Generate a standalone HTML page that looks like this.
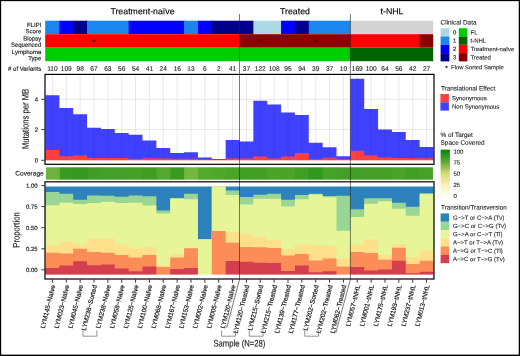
<!DOCTYPE html>
<html><head><meta charset="utf-8"><title>Figure</title>
<style>html,body{margin:0;padding:0;background:#fff;}body{width:520px;height:356px;overflow:hidden;font-family:"Liberation Sans",sans-serif;}svg{display:block;will-change:transform;}</style>
</head><body>
<svg width="520" height="356" viewBox="0 0 520 356" font-family="Liberation Sans, sans-serif">
<rect x="0.00" y="0.00" width="520.00" height="356.00" fill="#ffffff" />
<text transform="translate(142.50,14.20) rotate(0.1)" font-size="8.8" text-anchor="middle" fill="#000" stroke="#000" stroke-width="0.12" >Treatment-naïve</text>
<text transform="translate(295.00,14.20) rotate(0.1)" font-size="8.8" text-anchor="middle" fill="#000" stroke="#000" stroke-width="0.12" >Treated</text>
<text transform="translate(392.00,14.20) rotate(0.1)" font-size="8.8" text-anchor="middle" fill="#000" stroke="#000" stroke-width="0.12" >t-NHL</text>
<rect x="45.20" y="20.70" width="14.86" height="13.50" fill="#1c86ee" />
<rect x="59.36" y="20.70" width="14.56" height="13.50" fill="#0000ff" />
<rect x="73.21" y="20.70" width="14.56" height="13.50" fill="#00008b" />
<rect x="87.07" y="20.70" width="42.27" height="13.50" fill="#1c86ee" />
<rect x="128.64" y="20.70" width="56.13" height="13.50" fill="#0000ff" />
<rect x="184.07" y="20.70" width="14.56" height="13.50" fill="#1c86ee" />
<rect x="197.93" y="20.70" width="14.56" height="13.50" fill="#0000ff" />
<rect x="211.78" y="20.70" width="42.27" height="13.50" fill="#00008b" />
<rect x="253.35" y="20.70" width="28.41" height="13.50" fill="#add8e6" />
<rect x="281.07" y="20.70" width="14.56" height="13.50" fill="#0000ff" />
<rect x="294.93" y="20.70" width="14.56" height="13.50" fill="#00008b" />
<rect x="308.78" y="20.70" width="42.27" height="13.50" fill="#1c86ee" />
<rect x="350.35" y="20.70" width="82.85" height="13.50" fill="#d3d3d3" />
<rect x="45.20" y="34.20" width="195.00" height="13.50" fill="#ff0000" />
<rect x="239.50" y="34.20" width="111.56" height="13.50" fill="#8b0000" />
<rect x="350.35" y="34.20" width="69.99" height="13.50" fill="#ff0000" />
<rect x="419.64" y="34.20" width="13.56" height="13.50" fill="#8b0000" />
<rect x="45.20" y="47.70" width="305.85" height="13.50" fill="#00cd00" />
<rect x="350.35" y="47.70" width="82.85" height="13.50" fill="#006400" />
<polygon points="94.00,38.80 94.53,40.07 95.90,40.18 94.86,41.08 95.18,42.42 94.00,41.70 92.82,42.42 93.14,41.08 92.10,40.18 93.47,40.07" fill="#300000"/>
<polygon points="260.28,38.80 260.81,40.07 262.19,40.18 261.14,41.08 261.46,42.42 260.28,41.70 259.11,42.42 259.43,41.08 258.38,40.18 259.75,40.07" fill="#300000"/>
<polygon points="315.71,38.80 316.24,40.07 317.61,40.18 316.57,41.08 316.89,42.42 315.71,41.70 314.54,42.42 314.86,41.08 313.81,40.18 315.18,40.07" fill="#300000"/>
<text transform="translate(41.30,27.00) rotate(0.1)" font-size="6" text-anchor="end" fill="#1a1a1a" stroke="#1a1a1a" stroke-width="0.15" >FLIPI</text>
<text transform="translate(41.30,33.20) rotate(0.1)" font-size="6" text-anchor="end" fill="#1a1a1a" stroke="#1a1a1a" stroke-width="0.15" >Score</text>
<text transform="translate(41.30,40.50) rotate(0.1)" font-size="6" text-anchor="end" fill="#1a1a1a" stroke="#1a1a1a" stroke-width="0.15" >Biopsy</text>
<text transform="translate(41.30,46.70) rotate(0.1)" font-size="6" text-anchor="end" fill="#1a1a1a" stroke="#1a1a1a" stroke-width="0.15" >Sequenced</text>
<text transform="translate(41.30,54.00) rotate(0.1)" font-size="6" text-anchor="end" fill="#1a1a1a" stroke="#1a1a1a" stroke-width="0.15" >Lymphoma</text>
<text transform="translate(41.30,60.20) rotate(0.1)" font-size="6" text-anchor="end" fill="#1a1a1a" stroke="#1a1a1a" stroke-width="0.15" >Type</text>
<text transform="translate(41.30,70.70) rotate(0.1)" font-size="6" text-anchor="end" fill="#1a1a1a" stroke="#1a1a1a" stroke-width="0.15" ># of Variants</text>
<text transform="translate(52.43,70.80) rotate(0.1)" font-size="6.6" text-anchor="middle" fill="#1a1a1a" stroke="#1a1a1a" stroke-width="0.12" >110</text>
<text transform="translate(66.29,70.80) rotate(0.1)" font-size="6.6" text-anchor="middle" fill="#1a1a1a" stroke="#1a1a1a" stroke-width="0.12" >109</text>
<text transform="translate(80.14,70.80) rotate(0.1)" font-size="6.6" text-anchor="middle" fill="#1a1a1a" stroke="#1a1a1a" stroke-width="0.12" >98</text>
<text transform="translate(94.00,70.80) rotate(0.1)" font-size="6.6" text-anchor="middle" fill="#1a1a1a" stroke="#1a1a1a" stroke-width="0.12" >67</text>
<text transform="translate(107.86,70.80) rotate(0.1)" font-size="6.6" text-anchor="middle" fill="#1a1a1a" stroke="#1a1a1a" stroke-width="0.12" >63</text>
<text transform="translate(121.71,70.80) rotate(0.1)" font-size="6.6" text-anchor="middle" fill="#1a1a1a" stroke="#1a1a1a" stroke-width="0.12" >56</text>
<text transform="translate(135.57,70.80) rotate(0.1)" font-size="6.6" text-anchor="middle" fill="#1a1a1a" stroke="#1a1a1a" stroke-width="0.12" >54</text>
<text transform="translate(149.43,70.80) rotate(0.1)" font-size="6.6" text-anchor="middle" fill="#1a1a1a" stroke="#1a1a1a" stroke-width="0.12" >41</text>
<text transform="translate(163.28,70.80) rotate(0.1)" font-size="6.6" text-anchor="middle" fill="#1a1a1a" stroke="#1a1a1a" stroke-width="0.12" >24</text>
<text transform="translate(177.14,70.80) rotate(0.1)" font-size="6.6" text-anchor="middle" fill="#1a1a1a" stroke="#1a1a1a" stroke-width="0.12" >16</text>
<text transform="translate(191.00,70.80) rotate(0.1)" font-size="6.6" text-anchor="middle" fill="#1a1a1a" stroke="#1a1a1a" stroke-width="0.12" >13</text>
<text transform="translate(204.86,70.80) rotate(0.1)" font-size="6.6" text-anchor="middle" fill="#1a1a1a" stroke="#1a1a1a" stroke-width="0.12" >6</text>
<text transform="translate(218.71,70.80) rotate(0.1)" font-size="6.6" text-anchor="middle" fill="#1a1a1a" stroke="#1a1a1a" stroke-width="0.12" >2</text>
<text transform="translate(232.57,70.80) rotate(0.1)" font-size="6.6" text-anchor="middle" fill="#1a1a1a" stroke="#1a1a1a" stroke-width="0.12" >41</text>
<text transform="translate(246.43,70.80) rotate(0.1)" font-size="6.6" text-anchor="middle" fill="#1a1a1a" stroke="#1a1a1a" stroke-width="0.12" >37</text>
<text transform="translate(260.28,70.80) rotate(0.1)" font-size="6.6" text-anchor="middle" fill="#1a1a1a" stroke="#1a1a1a" stroke-width="0.12" >122</text>
<text transform="translate(274.14,70.80) rotate(0.1)" font-size="6.6" text-anchor="middle" fill="#1a1a1a" stroke="#1a1a1a" stroke-width="0.12" >108</text>
<text transform="translate(288.00,70.80) rotate(0.1)" font-size="6.6" text-anchor="middle" fill="#1a1a1a" stroke="#1a1a1a" stroke-width="0.12" >95</text>
<text transform="translate(301.85,70.80) rotate(0.1)" font-size="6.6" text-anchor="middle" fill="#1a1a1a" stroke="#1a1a1a" stroke-width="0.12" >94</text>
<text transform="translate(315.71,70.80) rotate(0.1)" font-size="6.6" text-anchor="middle" fill="#1a1a1a" stroke="#1a1a1a" stroke-width="0.12" >39</text>
<text transform="translate(329.57,70.80) rotate(0.1)" font-size="6.6" text-anchor="middle" fill="#1a1a1a" stroke="#1a1a1a" stroke-width="0.12" >37</text>
<text transform="translate(343.43,70.80) rotate(0.1)" font-size="6.6" text-anchor="middle" fill="#1a1a1a" stroke="#1a1a1a" stroke-width="0.12" >10</text>
<text transform="translate(357.28,70.80) rotate(0.1)" font-size="6.6" text-anchor="middle" fill="#1a1a1a" stroke="#1a1a1a" stroke-width="0.12" >169</text>
<text transform="translate(371.14,70.80) rotate(0.1)" font-size="6.6" text-anchor="middle" fill="#1a1a1a" stroke="#1a1a1a" stroke-width="0.12" >100</text>
<text transform="translate(385.00,70.80) rotate(0.1)" font-size="6.6" text-anchor="middle" fill="#1a1a1a" stroke="#1a1a1a" stroke-width="0.12" >64</text>
<text transform="translate(398.85,70.80) rotate(0.1)" font-size="6.6" text-anchor="middle" fill="#1a1a1a" stroke="#1a1a1a" stroke-width="0.12" >56</text>
<text transform="translate(412.71,70.80) rotate(0.1)" font-size="6.6" text-anchor="middle" fill="#1a1a1a" stroke="#1a1a1a" stroke-width="0.12" >42</text>
<text transform="translate(426.57,70.80) rotate(0.1)" font-size="6.6" text-anchor="middle" fill="#1a1a1a" stroke="#1a1a1a" stroke-width="0.12" >27</text>
<rect x="45.00" y="74.40" width="389.00" height="89.90" fill="#ffffff" />
<line x1="52.43" x2="52.43" y1="74.4" y2="164.3" stroke="#dedede" stroke-width="0.7"/>
<line x1="66.29" x2="66.29" y1="74.4" y2="164.3" stroke="#dedede" stroke-width="0.7"/>
<line x1="80.14" x2="80.14" y1="74.4" y2="164.3" stroke="#dedede" stroke-width="0.7"/>
<line x1="94.00" x2="94.00" y1="74.4" y2="164.3" stroke="#dedede" stroke-width="0.7"/>
<line x1="107.86" x2="107.86" y1="74.4" y2="164.3" stroke="#dedede" stroke-width="0.7"/>
<line x1="121.71" x2="121.71" y1="74.4" y2="164.3" stroke="#dedede" stroke-width="0.7"/>
<line x1="135.57" x2="135.57" y1="74.4" y2="164.3" stroke="#dedede" stroke-width="0.7"/>
<line x1="149.43" x2="149.43" y1="74.4" y2="164.3" stroke="#dedede" stroke-width="0.7"/>
<line x1="163.28" x2="163.28" y1="74.4" y2="164.3" stroke="#dedede" stroke-width="0.7"/>
<line x1="177.14" x2="177.14" y1="74.4" y2="164.3" stroke="#dedede" stroke-width="0.7"/>
<line x1="191.00" x2="191.00" y1="74.4" y2="164.3" stroke="#dedede" stroke-width="0.7"/>
<line x1="204.86" x2="204.86" y1="74.4" y2="164.3" stroke="#dedede" stroke-width="0.7"/>
<line x1="218.71" x2="218.71" y1="74.4" y2="164.3" stroke="#dedede" stroke-width="0.7"/>
<line x1="232.57" x2="232.57" y1="74.4" y2="164.3" stroke="#dedede" stroke-width="0.7"/>
<line x1="246.43" x2="246.43" y1="74.4" y2="164.3" stroke="#dedede" stroke-width="0.7"/>
<line x1="260.28" x2="260.28" y1="74.4" y2="164.3" stroke="#dedede" stroke-width="0.7"/>
<line x1="274.14" x2="274.14" y1="74.4" y2="164.3" stroke="#dedede" stroke-width="0.7"/>
<line x1="288.00" x2="288.00" y1="74.4" y2="164.3" stroke="#dedede" stroke-width="0.7"/>
<line x1="301.85" x2="301.85" y1="74.4" y2="164.3" stroke="#dedede" stroke-width="0.7"/>
<line x1="315.71" x2="315.71" y1="74.4" y2="164.3" stroke="#dedede" stroke-width="0.7"/>
<line x1="329.57" x2="329.57" y1="74.4" y2="164.3" stroke="#dedede" stroke-width="0.7"/>
<line x1="343.43" x2="343.43" y1="74.4" y2="164.3" stroke="#dedede" stroke-width="0.7"/>
<line x1="357.28" x2="357.28" y1="74.4" y2="164.3" stroke="#dedede" stroke-width="0.7"/>
<line x1="371.14" x2="371.14" y1="74.4" y2="164.3" stroke="#dedede" stroke-width="0.7"/>
<line x1="385.00" x2="385.00" y1="74.4" y2="164.3" stroke="#dedede" stroke-width="0.7"/>
<line x1="398.85" x2="398.85" y1="74.4" y2="164.3" stroke="#dedede" stroke-width="0.7"/>
<line x1="412.71" x2="412.71" y1="74.4" y2="164.3" stroke="#dedede" stroke-width="0.7"/>
<line x1="426.57" x2="426.57" y1="74.4" y2="164.3" stroke="#dedede" stroke-width="0.7"/>
<line x1="45.0" x2="434.0" y1="99.3" y2="99.3" stroke="#dedede" stroke-width="0.7"/>
<line x1="45.0" x2="434.0" y1="129.6" y2="129.6" stroke="#dedede" stroke-width="0.7"/>
<polygon points="45.50,161.3 45.50,95.20 59.36,95.20 59.36,108.10 73.21,108.10 73.21,114.30 87.07,114.30 87.07,127.70 100.93,127.70 100.93,129.00 114.78,129.00 114.78,133.00 128.64,133.00 128.64,134.80 142.50,134.80 142.50,140.50 156.36,140.50 156.36,147.90 170.21,147.90 170.21,153.00 184.07,153.00 184.07,152.30 197.93,152.30 197.93,157.50 211.78,157.50 211.78,159.00 225.64,159.00 225.64,140.10 239.50,140.10 239.50,141.60 253.35,141.60 253.35,100.70 267.21,100.70 267.21,104.40 281.07,104.40 281.07,112.60 294.93,112.60 294.93,115.00 308.78,115.00 308.78,142.80 322.64,142.80 322.64,147.20 336.50,147.20 336.50,156.20 350.35,156.20 350.35,78.70 364.21,78.70 364.21,108.90 378.07,108.90 378.07,129.60 391.92,129.60 391.92,132.10 405.78,132.10 405.78,139.90 419.64,139.90 419.64,147.10 433.50,147.10 433.5,161.3" fill="#4040ff"/>
<polygon points="45.50,161.3 45.50,150.00 59.36,150.00 59.36,156.20 73.21,156.20 73.21,155.50 87.07,155.50 87.07,158.10 100.93,158.10 100.93,158.10 114.78,158.10 114.78,158.00 128.64,158.00 128.64,159.00 142.50,159.00 142.50,158.30 156.36,158.30 156.36,158.60 170.21,158.60 170.21,158.80 184.07,158.80 184.07,158.80 197.93,158.80 197.93,159.40 211.78,159.40 211.78,159.80 225.64,159.80 225.64,158.40 239.50,158.40 239.50,158.60 253.35,158.60 253.35,156.60 267.21,156.60 267.21,158.60 281.07,158.60 281.07,156.60 294.93,156.60 294.93,153.10 308.78,153.10 308.78,159.30 322.64,159.30 322.64,157.70 336.50,157.70 336.50,159.30 350.35,159.30 350.35,150.70 364.21,150.70 364.21,155.40 378.07,155.40 378.07,157.50 391.92,157.50 391.92,158.00 405.78,158.00 405.78,158.20 419.64,158.20 419.64,158.20 433.50,158.20 433.5,161.3" fill="#ff4040"/>
<line x1="52.43" x2="52.43" y1="95.20" y2="160.3" stroke="#000040" stroke-opacity="0.10" stroke-width="0.7"/>
<line x1="66.29" x2="66.29" y1="108.10" y2="160.3" stroke="#000040" stroke-opacity="0.10" stroke-width="0.7"/>
<line x1="80.14" x2="80.14" y1="114.30" y2="160.3" stroke="#000040" stroke-opacity="0.10" stroke-width="0.7"/>
<line x1="94.00" x2="94.00" y1="127.70" y2="160.3" stroke="#000040" stroke-opacity="0.10" stroke-width="0.7"/>
<line x1="107.86" x2="107.86" y1="129.00" y2="160.3" stroke="#000040" stroke-opacity="0.10" stroke-width="0.7"/>
<line x1="121.71" x2="121.71" y1="133.00" y2="160.3" stroke="#000040" stroke-opacity="0.10" stroke-width="0.7"/>
<line x1="135.57" x2="135.57" y1="134.80" y2="160.3" stroke="#000040" stroke-opacity="0.10" stroke-width="0.7"/>
<line x1="149.43" x2="149.43" y1="140.50" y2="160.3" stroke="#000040" stroke-opacity="0.10" stroke-width="0.7"/>
<line x1="163.28" x2="163.28" y1="147.90" y2="160.3" stroke="#000040" stroke-opacity="0.10" stroke-width="0.7"/>
<line x1="177.14" x2="177.14" y1="153.00" y2="160.3" stroke="#000040" stroke-opacity="0.10" stroke-width="0.7"/>
<line x1="191.00" x2="191.00" y1="152.30" y2="160.3" stroke="#000040" stroke-opacity="0.10" stroke-width="0.7"/>
<line x1="204.86" x2="204.86" y1="157.50" y2="160.3" stroke="#000040" stroke-opacity="0.10" stroke-width="0.7"/>
<line x1="218.71" x2="218.71" y1="159.00" y2="160.3" stroke="#000040" stroke-opacity="0.10" stroke-width="0.7"/>
<line x1="232.57" x2="232.57" y1="140.10" y2="160.3" stroke="#000040" stroke-opacity="0.10" stroke-width="0.7"/>
<line x1="246.43" x2="246.43" y1="141.60" y2="160.3" stroke="#000040" stroke-opacity="0.10" stroke-width="0.7"/>
<line x1="260.28" x2="260.28" y1="100.70" y2="160.3" stroke="#000040" stroke-opacity="0.10" stroke-width="0.7"/>
<line x1="274.14" x2="274.14" y1="104.40" y2="160.3" stroke="#000040" stroke-opacity="0.10" stroke-width="0.7"/>
<line x1="288.00" x2="288.00" y1="112.60" y2="160.3" stroke="#000040" stroke-opacity="0.10" stroke-width="0.7"/>
<line x1="301.85" x2="301.85" y1="115.00" y2="160.3" stroke="#000040" stroke-opacity="0.10" stroke-width="0.7"/>
<line x1="315.71" x2="315.71" y1="142.80" y2="160.3" stroke="#000040" stroke-opacity="0.10" stroke-width="0.7"/>
<line x1="329.57" x2="329.57" y1="147.20" y2="160.3" stroke="#000040" stroke-opacity="0.10" stroke-width="0.7"/>
<line x1="343.43" x2="343.43" y1="156.20" y2="160.3" stroke="#000040" stroke-opacity="0.10" stroke-width="0.7"/>
<line x1="357.28" x2="357.28" y1="78.70" y2="160.3" stroke="#000040" stroke-opacity="0.10" stroke-width="0.7"/>
<line x1="371.14" x2="371.14" y1="108.90" y2="160.3" stroke="#000040" stroke-opacity="0.10" stroke-width="0.7"/>
<line x1="385.00" x2="385.00" y1="129.60" y2="160.3" stroke="#000040" stroke-opacity="0.10" stroke-width="0.7"/>
<line x1="398.85" x2="398.85" y1="132.10" y2="160.3" stroke="#000040" stroke-opacity="0.10" stroke-width="0.7"/>
<line x1="412.71" x2="412.71" y1="139.90" y2="160.3" stroke="#000040" stroke-opacity="0.10" stroke-width="0.7"/>
<line x1="426.57" x2="426.57" y1="147.10" y2="160.3" stroke="#000040" stroke-opacity="0.10" stroke-width="0.7"/>
<rect x="45.30" y="160.30" width="388.40" height="3.60" fill="#ffffff" />
<rect x="46.00" y="167.30" width="14.52" height="12.40" fill="#6cb23c" />
<rect x="59.82" y="167.30" width="14.52" height="12.40" fill="#3a9a22" />
<rect x="73.64" y="167.30" width="14.52" height="12.40" fill="#369a20" />
<rect x="87.46" y="167.30" width="14.52" height="12.40" fill="#3f9d25" />
<rect x="101.28" y="167.30" width="14.52" height="12.40" fill="#449f27" />
<rect x="115.10" y="167.30" width="14.52" height="12.40" fill="#469f28" />
<rect x="128.92" y="167.30" width="14.52" height="12.40" fill="#47a028" />
<rect x="142.74" y="167.30" width="14.52" height="12.40" fill="#3f9d24" />
<rect x="156.56" y="167.30" width="14.52" height="12.40" fill="#55a82e" />
<rect x="170.38" y="167.30" width="14.52" height="12.40" fill="#3a9a20" />
<rect x="184.20" y="167.30" width="14.52" height="12.40" fill="#74b840" />
<rect x="198.02" y="167.30" width="14.52" height="12.40" fill="#52a92c" />
<rect x="211.84" y="167.30" width="14.52" height="12.40" fill="#4fa82a" />
<rect x="225.66" y="167.30" width="14.52" height="12.40" fill="#4aa428" />
<rect x="239.48" y="167.30" width="14.52" height="12.40" fill="#3f9e24" />
<rect x="253.30" y="167.30" width="14.52" height="12.40" fill="#429f25" />
<rect x="267.12" y="167.30" width="14.52" height="12.40" fill="#4ba428" />
<rect x="280.94" y="167.30" width="14.52" height="12.40" fill="#4ba428" />
<rect x="294.76" y="167.30" width="14.52" height="12.40" fill="#3f9e24" />
<rect x="308.58" y="167.30" width="14.52" height="12.40" fill="#2f981d" />
<rect x="322.40" y="167.30" width="14.52" height="12.40" fill="#47a327" />
<rect x="336.22" y="167.30" width="14.52" height="12.40" fill="#459f27" />
<rect x="350.04" y="167.30" width="14.52" height="12.40" fill="#429f25" />
<rect x="363.86" y="167.30" width="14.52" height="12.40" fill="#489f28" />
<rect x="377.68" y="167.30" width="14.52" height="12.40" fill="#459f27" />
<rect x="391.50" y="167.30" width="14.52" height="12.40" fill="#4aa428" />
<rect x="405.32" y="167.30" width="14.52" height="12.40" fill="#429f25" />
<rect x="419.14" y="167.30" width="13.82" height="12.40" fill="#47a027" />
<rect x="45.00" y="181.80" width="389.00" height="97.20" fill="#ffffff" />
<polygon points="45.50,275.6 45.50,186.60 59.36,186.60 59.36,186.60 73.21,186.60 73.21,186.60 87.07,186.60 87.07,186.60 100.93,186.60 100.93,186.60 114.78,186.60 114.78,186.60 128.64,186.60 128.64,186.60 142.50,186.60 142.50,186.60 156.36,186.60 156.36,186.60 170.21,186.60 170.21,186.60 184.07,186.60 184.07,186.60 197.93,186.60 197.93,186.60 211.78,186.60 211.78,186.60 225.64,186.60 225.64,186.60 239.50,186.60 239.50,186.60 253.35,186.60 253.35,186.60 267.21,186.60 267.21,186.60 281.07,186.60 281.07,186.60 294.93,186.60 294.93,186.60 308.78,186.60 308.78,186.60 322.64,186.60 322.64,186.60 336.50,186.60 336.50,186.60 350.35,186.60 350.35,186.60 364.21,186.60 364.21,186.60 378.07,186.60 378.07,186.60 391.92,186.60 391.92,186.60 405.78,186.60 405.78,186.60 419.64,186.60 419.64,186.60 433.50,186.60 433.5,275.6" fill="#2e82bb"/>
<polygon points="45.50,275.6 45.50,191.90 59.36,191.90 59.36,193.80 73.21,193.80 73.21,199.80 87.07,199.80 87.07,195.40 100.93,195.40 100.93,195.80 114.78,195.80 114.78,196.70 128.64,196.70 128.64,195.40 142.50,195.40 142.50,196.30 156.36,196.30 156.36,210.40 170.21,210.40 170.21,198.30 184.07,198.30 184.07,193.80 197.93,193.80 197.93,239.30 211.78,239.30 211.78,186.30 225.64,186.30 225.64,190.60 239.50,190.60 239.50,196.90 253.35,196.90 253.35,194.80 267.21,194.80 267.21,193.80 281.07,193.80 281.07,199.80 294.93,199.80 294.93,195.00 308.78,195.00 308.78,193.80 322.64,193.80 322.64,196.00 336.50,196.00 336.50,195.80 350.35,195.80 350.35,209.20 364.21,209.20 364.21,198.30 378.07,198.30 378.07,198.30 391.92,198.30 391.92,202.80 405.78,202.80 405.78,206.80 419.64,206.80 419.64,193.50 433.50,193.50 433.5,275.6" fill="#99d594"/>
<polygon points="45.50,275.6 45.50,205.20 59.36,205.20 59.36,202.70 73.21,202.70 73.21,204.00 87.07,204.00 87.07,203.00 100.93,203.00 100.93,201.70 114.78,201.70 114.78,203.00 128.64,203.00 128.64,202.70 142.50,202.70 142.50,205.40 156.36,205.40 156.36,213.60 170.21,213.60 170.21,198.50 184.07,198.50 184.07,199.20 197.93,199.20 197.93,239.30 211.78,239.30 211.78,186.30 225.64,186.30 225.64,195.00 239.50,195.00 239.50,204.60 253.35,204.60 253.35,198.70 267.21,198.70 267.21,198.70 281.07,198.70 281.07,206.50 294.93,206.50 294.93,199.20 308.78,199.20 308.78,194.50 322.64,194.50 322.64,197.30 336.50,197.30 336.50,230.80 350.35,230.80 350.35,216.90 364.21,216.90 364.21,203.70 378.07,203.70 378.07,201.20 391.92,201.20 391.92,208.70 405.78,208.70 405.78,215.80 419.64,215.80 419.64,193.80 433.50,193.80 433.5,275.6" fill="#e6f598"/>
<polygon points="45.50,275.6 45.50,245.40 59.36,245.40 59.36,241.50 73.21,241.50 73.21,244.40 87.07,244.40 87.07,238.70 100.93,238.70 100.93,238.70 114.78,238.70 114.78,244.40 128.64,244.40 128.64,248.30 142.50,248.30 142.50,246.90 156.36,246.90 156.36,265.00 170.21,265.00 170.21,254.00 184.07,254.00 184.07,248.20 197.93,248.20 197.93,275.60 211.78,275.60 211.78,231.00 225.64,231.00 225.64,232.30 239.50,232.30 239.50,233.80 253.35,233.80 253.35,236.70 267.21,236.70 267.21,240.60 281.07,240.60 281.07,249.20 294.93,249.20 294.93,244.40 308.78,244.40 308.78,245.00 322.64,245.00 322.64,246.00 336.50,246.00 336.50,258.80 350.35,258.80 350.35,244.40 364.21,244.40 364.21,239.60 378.07,239.60 378.07,255.00 391.92,255.00 391.92,244.40 405.78,244.40 405.78,256.90 419.64,256.90 419.64,250.20 433.50,250.20 433.5,275.6" fill="#fee08b"/>
<polygon points="45.50,275.6 45.50,252.70 59.36,252.70 59.36,253.50 73.21,253.50 73.21,248.70 87.07,248.70 87.07,252.10 100.93,252.10 100.93,252.70 114.78,252.70 114.78,255.00 128.64,255.00 128.64,257.50 142.50,257.50 142.50,255.00 156.36,255.00 156.36,267.00 170.21,267.00 170.21,257.50 184.07,257.50 184.07,248.30 197.93,248.30 197.93,275.60 211.78,275.60 211.78,231.00 225.64,231.00 225.64,242.70 239.50,242.70 239.50,246.90 253.35,246.90 253.35,247.30 267.21,247.30 267.21,247.90 281.07,247.90 281.07,255.60 294.93,255.60 294.93,254.00 308.78,254.00 308.78,260.40 322.64,260.40 322.64,258.50 336.50,258.50 336.50,266.50 350.35,266.50 350.35,252.10 364.21,252.10 364.21,253.10 378.07,253.10 378.07,259.80 391.92,259.80 391.92,247.70 405.78,247.70 405.78,264.00 419.64,264.00 419.64,260.80 433.50,260.80 433.5,275.6" fill="#fc8d59"/>
<polygon points="45.50,275.6 45.50,267.90 59.36,267.90 59.36,265.60 73.21,265.60 73.21,261.20 87.07,261.20 87.07,265.20 100.93,265.20 100.93,264.60 114.78,264.60 114.78,268.50 128.64,268.50 128.64,271.30 142.50,271.30 142.50,266.50 156.36,266.50 156.36,275.60 170.21,275.60 170.21,269.00 184.07,269.00 184.07,267.90 197.93,267.90 197.93,275.60 211.78,275.60 211.78,275.60 225.64,275.60 225.64,261.00 239.50,261.00 239.50,261.70 253.35,261.70 253.35,262.70 267.21,262.70 267.21,263.10 281.07,263.10 281.07,271.00 294.93,271.00 294.93,265.60 308.78,265.60 308.78,272.30 322.64,272.30 322.64,271.30 336.50,271.30 336.50,275.60 350.35,275.60 350.35,266.90 364.21,266.90 364.21,270.40 378.07,270.40 378.07,269.40 391.92,269.40 391.92,260.80 405.78,260.80 405.78,273.30 419.64,273.30 419.64,271.70 433.50,271.70 433.5,275.6" fill="#d53e4f"/>
<rect x="45.30" y="274.60" width="388.40" height="4.10" fill="#ffffff" />
<polyline points="239.5,14 239.5,279.5 226.7,327.8" fill="none" stroke="#222" stroke-width="0.6"/>
<polyline points="350.4,14 350.4,279.5 335.7,333.2" fill="none" stroke="#222" stroke-width="0.6"/>
<rect x="45.0" y="74.4" width="389.0" height="89.9" fill="none" stroke="#000" stroke-width="1.2"/>
<rect x="45.0" y="181.8" width="389.0" height="97.19999999999999" fill="none" stroke="#000" stroke-width="1.2"/>
<line x1="41.3" x2="44.5" y1="99.3" y2="99.3" stroke="#000" stroke-width="0.8"/>
<text transform="translate(38.20,101.50) rotate(0.1)" font-size="6" text-anchor="end" fill="#1a1a1a" stroke="#1a1a1a" stroke-width="0.15" >4</text>
<line x1="41.3" x2="44.5" y1="129.6" y2="129.6" stroke="#000" stroke-width="0.8"/>
<text transform="translate(38.20,131.80) rotate(0.1)" font-size="6" text-anchor="end" fill="#1a1a1a" stroke="#1a1a1a" stroke-width="0.15" >2</text>
<line x1="41.3" x2="44.5" y1="160.3" y2="160.3" stroke="#000" stroke-width="0.8"/>
<text transform="translate(38.20,162.50) rotate(0.1)" font-size="6" text-anchor="end" fill="#1a1a1a" stroke="#1a1a1a" stroke-width="0.15" >0</text>
<line x1="41.3" x2="44.5" y1="185.6" y2="185.6" stroke="#000" stroke-width="0.8"/>
<text transform="translate(37.60,187.80) rotate(0.1)" font-size="6" text-anchor="end" fill="#1a1a1a" stroke="#1a1a1a" stroke-width="0.15" >1.00</text>
<line x1="41.3" x2="44.5" y1="206.6" y2="206.6" stroke="#000" stroke-width="0.8"/>
<text transform="translate(37.60,208.80) rotate(0.1)" font-size="6" text-anchor="end" fill="#1a1a1a" stroke="#1a1a1a" stroke-width="0.15" >0.75</text>
<line x1="41.3" x2="44.5" y1="227.7" y2="227.7" stroke="#000" stroke-width="0.8"/>
<text transform="translate(37.60,229.90) rotate(0.1)" font-size="6" text-anchor="end" fill="#1a1a1a" stroke="#1a1a1a" stroke-width="0.15" >0.50</text>
<line x1="41.3" x2="44.5" y1="248.8" y2="248.8" stroke="#000" stroke-width="0.8"/>
<text transform="translate(37.60,251.00) rotate(0.1)" font-size="6" text-anchor="end" fill="#1a1a1a" stroke="#1a1a1a" stroke-width="0.15" >0.25</text>
<line x1="41.3" x2="44.5" y1="269.8" y2="269.8" stroke="#000" stroke-width="0.8"/>
<text transform="translate(37.60,272.00) rotate(0.1)" font-size="6" text-anchor="end" fill="#1a1a1a" stroke="#1a1a1a" stroke-width="0.15" >0.00</text>
<text transform="translate(43.70,175.45) rotate(0.1)" font-size="6.55" text-anchor="end" fill="#1a1a1a" stroke="#1a1a1a" stroke-width="0.15" >Coverage</text>
<text transform="translate(28.60,118.90) rotate(-90.1) scale(0.82,1)" font-size="9.4" text-anchor="middle" fill="#1a1a1a" stroke="#1a1a1a" stroke-width="0.15" >Mutations per MB</text>
<text transform="translate(19.40,230.00) rotate(-90.1) scale(0.82,1)" font-size="9.4" text-anchor="middle" fill="#1a1a1a" stroke="#1a1a1a" stroke-width="0.15" >Proportion</text>
<line x1="52.43" x2="52.43" y1="279.5" y2="282.7" stroke="#000" stroke-width="0.8"/>
<text transform="translate(55.43,285.6) rotate(-76)" font-size="6.5" text-anchor="end" fill="#1a1a1a" stroke="#1a1a1a" stroke-width="0.2">LYM145−Naïve</text>
<line x1="66.29" x2="66.29" y1="279.5" y2="282.7" stroke="#000" stroke-width="0.8"/>
<text transform="translate(69.29,285.6) rotate(-76)" font-size="6.5" text-anchor="end" fill="#1a1a1a" stroke="#1a1a1a" stroke-width="0.2">LYM023−Naïve</text>
<line x1="80.14" x2="80.14" y1="279.5" y2="282.7" stroke="#000" stroke-width="0.8"/>
<text transform="translate(83.14,285.6) rotate(-76)" font-size="6.5" text-anchor="end" fill="#1a1a1a" stroke="#1a1a1a" stroke-width="0.2">LYM045−Naïve</text>
<line x1="94.00" x2="94.00" y1="279.5" y2="282.7" stroke="#000" stroke-width="0.8"/>
<text transform="translate(97.00,285.6) rotate(-76)" font-size="6.5" text-anchor="end" fill="#1a1a1a" stroke="#1a1a1a" stroke-width="0.2">LYM238−Sorted</text>
<line x1="107.86" x2="107.86" y1="279.5" y2="282.7" stroke="#000" stroke-width="0.8"/>
<text transform="translate(110.86,285.6) rotate(-76)" font-size="6.5" text-anchor="end" fill="#1a1a1a" stroke="#1a1a1a" stroke-width="0.2">LYM238−Naïve</text>
<line x1="121.71" x2="121.71" y1="279.5" y2="282.7" stroke="#000" stroke-width="0.8"/>
<text transform="translate(124.71,285.6) rotate(-76)" font-size="6.5" text-anchor="end" fill="#1a1a1a" stroke="#1a1a1a" stroke-width="0.2">LYM058−Naïve</text>
<line x1="135.57" x2="135.57" y1="279.5" y2="282.7" stroke="#000" stroke-width="0.8"/>
<text transform="translate(138.57,285.6) rotate(-76)" font-size="6.5" text-anchor="end" fill="#1a1a1a" stroke="#1a1a1a" stroke-width="0.2">LYM125−Naïve</text>
<line x1="149.43" x2="149.43" y1="279.5" y2="282.7" stroke="#000" stroke-width="0.8"/>
<text transform="translate(152.43,285.6) rotate(-76)" font-size="6.5" text-anchor="end" fill="#1a1a1a" stroke="#1a1a1a" stroke-width="0.2">LYM100−Naïve</text>
<line x1="163.28" x2="163.28" y1="279.5" y2="282.7" stroke="#000" stroke-width="0.8"/>
<text transform="translate(166.28,285.6) rotate(-76)" font-size="6.5" text-anchor="end" fill="#1a1a1a" stroke="#1a1a1a" stroke-width="0.2">LYM068−Naïve</text>
<line x1="177.14" x2="177.14" y1="279.5" y2="282.7" stroke="#000" stroke-width="0.8"/>
<text transform="translate(180.14,285.6) rotate(-76)" font-size="6.5" text-anchor="end" fill="#1a1a1a" stroke="#1a1a1a" stroke-width="0.2">LYM167−Naïve</text>
<line x1="191.00" x2="191.00" y1="279.5" y2="282.7" stroke="#000" stroke-width="0.8"/>
<text transform="translate(194.00,285.6) rotate(-76)" font-size="6.5" text-anchor="end" fill="#1a1a1a" stroke="#1a1a1a" stroke-width="0.2">LYM153−Naïve</text>
<line x1="204.86" x2="204.86" y1="279.5" y2="282.7" stroke="#000" stroke-width="0.8"/>
<text transform="translate(207.86,285.6) rotate(-76)" font-size="6.5" text-anchor="end" fill="#1a1a1a" stroke="#1a1a1a" stroke-width="0.2">LYM002−Naïve</text>
<line x1="218.71" x2="218.71" y1="279.5" y2="282.7" stroke="#000" stroke-width="0.8"/>
<text transform="translate(221.71,285.6) rotate(-76)" font-size="6.5" text-anchor="end" fill="#1a1a1a" stroke="#1a1a1a" stroke-width="0.2">LYM005−Naïve</text>
<line x1="232.57" x2="232.57" y1="279.5" y2="282.7" stroke="#000" stroke-width="0.8"/>
<text transform="translate(235.57,285.6) rotate(-76)" font-size="6.5" text-anchor="end" fill="#1a1a1a" stroke="#1a1a1a" stroke-width="0.2">LYM120−Naïve</text>
<line x1="246.43" x2="246.43" y1="279.5" y2="282.7" stroke="#000" stroke-width="0.8"/>
<text transform="translate(249.43,285.6) rotate(-76)" font-size="6.5" text-anchor="end" fill="#1a1a1a" stroke="#1a1a1a" stroke-width="0.2">LYM120−Treated</text>
<line x1="260.28" x2="260.28" y1="279.5" y2="282.7" stroke="#000" stroke-width="0.8"/>
<text transform="translate(263.28,285.6) rotate(-76)" font-size="6.5" text-anchor="end" fill="#1a1a1a" stroke="#1a1a1a" stroke-width="0.2">LYM215−Sorted</text>
<line x1="274.14" x2="274.14" y1="279.5" y2="282.7" stroke="#000" stroke-width="0.8"/>
<text transform="translate(277.14,285.6) rotate(-76)" font-size="6.5" text-anchor="end" fill="#1a1a1a" stroke="#1a1a1a" stroke-width="0.2">LYM215−Treated</text>
<line x1="288.00" x2="288.00" y1="279.5" y2="282.7" stroke="#000" stroke-width="0.8"/>
<text transform="translate(291.00,285.6) rotate(-76)" font-size="6.5" text-anchor="end" fill="#1a1a1a" stroke="#1a1a1a" stroke-width="0.2">LYM139−Treated</text>
<line x1="301.85" x2="301.85" y1="279.5" y2="282.7" stroke="#000" stroke-width="0.8"/>
<text transform="translate(304.85,285.6) rotate(-76)" font-size="6.5" text-anchor="end" fill="#1a1a1a" stroke="#1a1a1a" stroke-width="0.2">LYM177−Treated</text>
<line x1="315.71" x2="315.71" y1="279.5" y2="282.7" stroke="#000" stroke-width="0.8"/>
<text transform="translate(318.71,285.6) rotate(-76)" font-size="6.5" text-anchor="end" fill="#1a1a1a" stroke="#1a1a1a" stroke-width="0.2">LYM202−Sorted</text>
<line x1="329.57" x2="329.57" y1="279.5" y2="282.7" stroke="#000" stroke-width="0.8"/>
<text transform="translate(332.57,285.6) rotate(-76)" font-size="6.5" text-anchor="end" fill="#1a1a1a" stroke="#1a1a1a" stroke-width="0.2">LYM202−Treated</text>
<line x1="343.43" x2="343.43" y1="279.5" y2="282.7" stroke="#000" stroke-width="0.8"/>
<text transform="translate(346.43,285.6) rotate(-76)" font-size="6.5" text-anchor="end" fill="#1a1a1a" stroke="#1a1a1a" stroke-width="0.2">LYM062−Treated</text>
<line x1="357.28" x2="357.28" y1="279.5" y2="282.7" stroke="#000" stroke-width="0.8"/>
<text transform="translate(360.28,285.6) rotate(-76)" font-size="6.5" text-anchor="end" fill="#1a1a1a" stroke="#1a1a1a" stroke-width="0.2">LYM057−tNHL</text>
<line x1="371.14" x2="371.14" y1="279.5" y2="282.7" stroke="#000" stroke-width="0.8"/>
<text transform="translate(374.14,285.6) rotate(-76)" font-size="6.5" text-anchor="end" fill="#1a1a1a" stroke="#1a1a1a" stroke-width="0.2">LYM001−tNHL</text>
<line x1="385.00" x2="385.00" y1="279.5" y2="282.7" stroke="#000" stroke-width="0.8"/>
<text transform="translate(388.00,285.6) rotate(-76)" font-size="6.5" text-anchor="end" fill="#1a1a1a" stroke="#1a1a1a" stroke-width="0.2">LYM175−tNHL</text>
<line x1="398.85" x2="398.85" y1="279.5" y2="282.7" stroke="#000" stroke-width="0.8"/>
<text transform="translate(401.85,285.6) rotate(-76)" font-size="6.5" text-anchor="end" fill="#1a1a1a" stroke="#1a1a1a" stroke-width="0.2">LYM193−tNHL</text>
<line x1="412.71" x2="412.71" y1="279.5" y2="282.7" stroke="#000" stroke-width="0.8"/>
<text transform="translate(415.71,285.6) rotate(-76)" font-size="6.5" text-anchor="end" fill="#1a1a1a" stroke="#1a1a1a" stroke-width="0.2">LYM237−tNHL</text>
<line x1="426.57" x2="426.57" y1="279.5" y2="282.7" stroke="#000" stroke-width="0.8"/>
<text transform="translate(429.57,285.6) rotate(-76)" font-size="6.5" text-anchor="end" fill="#1a1a1a" stroke="#1a1a1a" stroke-width="0.2">LYM013−tNHL</text>
<polyline points="83.00,330.4 83.00,336.2 96.86,336.2 96.86,330.4" fill="none" stroke="#666" stroke-width="0.7"/>
<polyline points="221.57,330.4 221.57,336.2 235.43,336.2 235.43,330.4" fill="none" stroke="#666" stroke-width="0.7"/>
<polyline points="249.28,330.4 249.28,336.2 263.14,336.2 263.14,330.4" fill="none" stroke="#666" stroke-width="0.7"/>
<polyline points="304.71,330.4 304.71,336.2 318.57,336.2 318.57,330.4" fill="none" stroke="#666" stroke-width="0.7"/>
<text transform="translate(239.40,346.50) rotate(0.1) scale(0.82,1)" font-size="9.4" text-anchor="middle" fill="#1a1a1a" stroke="#1a1a1a" stroke-width="0.15" >Sample (N=28)</text>
<text transform="translate(440.60,24.50) rotate(0.1)" font-size="6.4" text-anchor="start" fill="#1a1a1a" stroke="#1a1a1a" stroke-width="0.1" >Clinical Data</text>
<rect x="440.60" y="28.20" width="8.80" height="8.30" fill="#add8e6" />
<text transform="translate(453.10,34.50) rotate(0.1)" font-size="6" text-anchor="start" fill="#1a1a1a" stroke="#1a1a1a" stroke-width="0.1" >0</text>
<rect x="440.60" y="36.50" width="8.80" height="8.30" fill="#1c86ee" />
<text transform="translate(453.10,42.80) rotate(0.1)" font-size="6" text-anchor="start" fill="#1a1a1a" stroke="#1a1a1a" stroke-width="0.1" >1</text>
<rect x="440.60" y="44.80" width="8.80" height="8.30" fill="#0000ff" />
<text transform="translate(453.10,51.10) rotate(0.1)" font-size="6" text-anchor="start" fill="#1a1a1a" stroke="#1a1a1a" stroke-width="0.1" >2</text>
<rect x="440.60" y="53.10" width="8.80" height="8.30" fill="#00008b" />
<text transform="translate(453.10,59.40) rotate(0.1)" font-size="6" text-anchor="start" fill="#1a1a1a" stroke="#1a1a1a" stroke-width="0.1" >3</text>
<rect x="458.80" y="28.20" width="8.60" height="8.30" fill="#00cd00" />
<text transform="translate(470.50,34.50) rotate(0.1)" font-size="6" text-anchor="start" fill="#1a1a1a" stroke="#1a1a1a" stroke-width="0.1" >FL</text>
<rect x="458.80" y="36.50" width="8.60" height="8.30" fill="#006400" />
<text transform="translate(470.50,42.80) rotate(0.1)" font-size="6" text-anchor="start" fill="#1a1a1a" stroke="#1a1a1a" stroke-width="0.1" >t-NHL</text>
<rect x="458.80" y="44.80" width="8.60" height="8.30" fill="#ff0000" />
<text transform="translate(470.50,51.10) rotate(0.1)" font-size="6" text-anchor="start" fill="#1a1a1a" stroke="#1a1a1a" stroke-width="0.1" >Treatment-naïve</text>
<rect x="458.80" y="53.10" width="8.60" height="8.30" fill="#8b0000" />
<text transform="translate(470.50,59.40) rotate(0.1)" font-size="6" text-anchor="start" fill="#1a1a1a" stroke="#1a1a1a" stroke-width="0.1" >Treated</text>
<polygon points="446.50,65.40 446.92,66.42 448.02,66.51 447.18,67.22 447.44,68.29 446.50,67.72 445.56,68.29 445.82,67.22 444.98,66.51 446.08,66.42" fill="#111"/>
<text transform="translate(451.10,69.20) rotate(0.1)" font-size="5.85" text-anchor="start" fill="#1a1a1a" stroke="#1a1a1a" stroke-width="0.1" >Flow Sorted Sample</text>
<text transform="translate(440.90,90.50) rotate(0.1)" font-size="6.4" text-anchor="start" fill="#1a1a1a" stroke="#1a1a1a" stroke-width="0.1" >Translational Effect</text>
<rect x="440.40" y="94.00" width="8.50" height="8.30" fill="#ff4040" />
<rect x="440.40" y="102.30" width="8.50" height="8.30" fill="#4040ff" />
<text transform="translate(452.00,100.20) rotate(0.1)" font-size="6" text-anchor="start" fill="#1a1a1a" stroke="#1a1a1a" stroke-width="0.1" >Synonymous</text>
<text transform="translate(452.00,108.60) rotate(0.1)" font-size="6" text-anchor="start" fill="#1a1a1a" stroke="#1a1a1a" stroke-width="0.1" >Non Synonymous</text>
<text transform="translate(440.60,137.00) rotate(0.1)" font-size="6.4" text-anchor="start" fill="#1a1a1a" stroke="#1a1a1a" stroke-width="0.1" >% of Target</text>
<text transform="translate(440.60,144.80) rotate(0.1)" font-size="6.4" text-anchor="start" fill="#1a1a1a" stroke="#1a1a1a" stroke-width="0.1" >Space Covered</text>
<defs><linearGradient id="cg" x1="0" y1="0" x2="0" y2="1"><stop offset="0" stop-color="#0e8a12"/><stop offset="0.04" stop-color="#0e8a12"/><stop offset="0.27" stop-color="#62ac38"/><stop offset="0.49" stop-color="#d6dc72"/><stop offset="0.72" stop-color="#f8f0b4"/><stop offset="0.95" stop-color="#fffdf0"/><stop offset="1" stop-color="#ffffff"/></linearGradient></defs>
<rect x="440.60" y="149.60" width="9.30" height="48.70" fill="url(#cg)" />
<text transform="translate(453.40,153.80) rotate(0.1)" font-size="6" text-anchor="start" fill="#1a1a1a" stroke="#1a1a1a" stroke-width="0.1" >100</text>
<text transform="translate(453.40,164.60) rotate(0.1)" font-size="6" text-anchor="start" fill="#1a1a1a" stroke="#1a1a1a" stroke-width="0.1" >75</text>
<text transform="translate(453.40,175.80) rotate(0.1)" font-size="6" text-anchor="start" fill="#1a1a1a" stroke="#1a1a1a" stroke-width="0.1" >50</text>
<text transform="translate(453.40,187.00) rotate(0.1)" font-size="6" text-anchor="start" fill="#1a1a1a" stroke="#1a1a1a" stroke-width="0.1" >25</text>
<text transform="translate(453.40,197.90) rotate(0.1)" font-size="6" text-anchor="start" fill="#1a1a1a" stroke="#1a1a1a" stroke-width="0.1" >0</text>
<text transform="translate(441.00,209.40) rotate(0.1)" font-size="6.35" text-anchor="start" fill="#1a1a1a" stroke="#1a1a1a" stroke-width="0.1" >Transition/Transversion</text>
<rect x="440.60" y="213.40" width="8.50" height="8.38" fill="#2e82bb" />
<text transform="translate(453.10,219.70) rotate(0.1)" font-size="6" text-anchor="start" fill="#1a1a1a" stroke="#1a1a1a" stroke-width="0.1" >G−&gt;T or C−&gt;A (Tv)</text>
<rect x="440.60" y="221.68" width="8.50" height="8.38" fill="#99d594" />
<text transform="translate(453.10,227.98) rotate(0.1)" font-size="6" text-anchor="start" fill="#1a1a1a" stroke="#1a1a1a" stroke-width="0.1" >G−&gt;C or C−&gt;G (Tv)</text>
<rect x="440.60" y="229.96" width="8.50" height="8.38" fill="#e6f598" />
<text transform="translate(453.10,236.26) rotate(0.1)" font-size="6" text-anchor="start" fill="#1a1a1a" stroke="#1a1a1a" stroke-width="0.1" >G−&gt;A or C−&gt;T (Ti)</text>
<rect x="440.60" y="238.24" width="8.50" height="8.38" fill="#fee08b" />
<text transform="translate(453.10,244.54) rotate(0.1)" font-size="6" text-anchor="start" fill="#1a1a1a" stroke="#1a1a1a" stroke-width="0.1" >A−&gt;T or T−&gt;A (Tv)</text>
<rect x="440.60" y="246.52" width="8.50" height="8.38" fill="#fc8d59" />
<text transform="translate(453.10,252.82) rotate(0.1)" font-size="6" text-anchor="start" fill="#1a1a1a" stroke="#1a1a1a" stroke-width="0.1" >A−&gt;G or T−&gt;C (Ti)</text>
<rect x="440.60" y="254.80" width="8.50" height="8.38" fill="#d53e4f" />
<text transform="translate(453.10,261.10) rotate(0.1)" font-size="6" text-anchor="start" fill="#1a1a1a" stroke="#1a1a1a" stroke-width="0.1" >A−&gt;C or T−&gt;G (Tv)</text>
<rect x="0.00" y="0.00" width="520.00" height="1.15" fill="#000" />
<rect x="0.00" y="0.00" width="1.15" height="356.00" fill="#000" />
<rect x="518.75" y="0.00" width="1.25" height="356.00" fill="#000" />
<rect x="0.00" y="354.60" width="520.00" height="1.40" fill="#000" />
</svg>
</body></html>
